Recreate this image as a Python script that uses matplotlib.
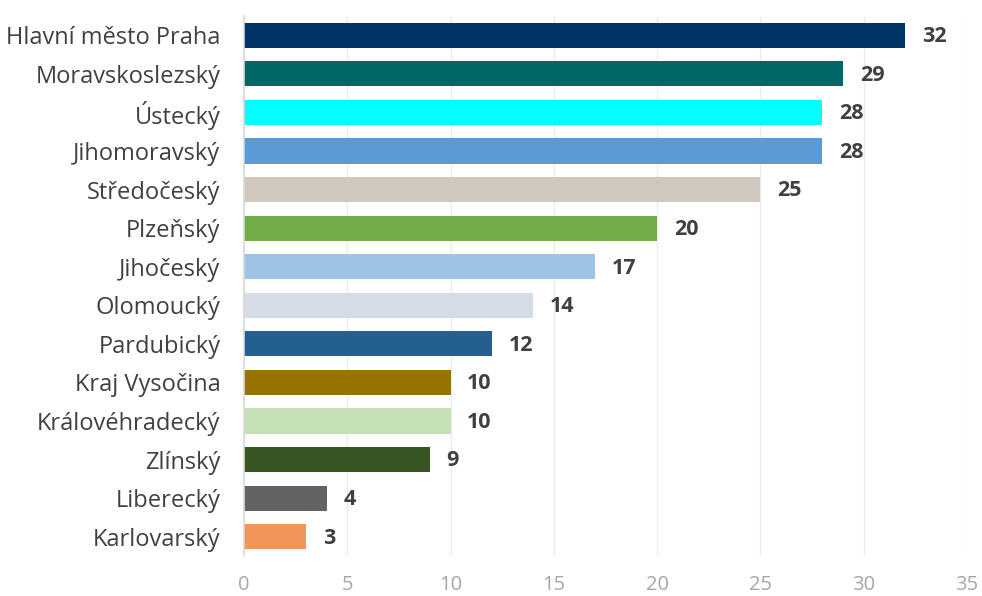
import matplotlib
matplotlib.use("Agg")
import matplotlib.pyplot as plt

regions = ["Hlavní město Praha", "Moravskoslezský", "Ústecký", "Jihomoravský",
           "Středočeský", "Plzeňský", "Jihočeský", "Olomoucký", "Pardubický",
           "Kraj Vysočina", "Královéhradecký", "Zlínský", "Liberecký", "Karlovarský"]
values = [32, 29, 28, 28, 25, 20, 17, 14, 12, 10, 10, 9, 4, 3]
colors = ["#003366", "#006666", "#00FFFF", "#5B9BD5", "#D0C8BC", "#70AD47",
          "#9DC3E6", "#D6DCE5", "#255E91", "#997300", "#C5E0B4", "#375623",
          "#636363", "#F0965A"]
x_ticks = [0, 5, 10, 15, 20, 25, 30, 35]

plt.rcParams["font.family"] = ["Open Sans", "DejaVu Sans"]

fig = plt.figure(figsize=(9.82, 5.96), dpi=100)
ax = fig.add_axes([0.2485, 0.0671, 0.7362, 0.9061])

pos = list(range(len(regions)))
ax.barh(pos, values, height=0.65, color=colors, zorder=3)
for p, v in zip(pos, values):
    ax.annotate(str(v), (v, p), xytext=(12, -1), textcoords="offset points",
                ha="left", va="center", fontsize=15.5, fontweight="bold",
                color="#404040", zorder=4)

ax.set_ylim(len(regions) - 0.5, -0.5)
ax.set_xlim(0, 35)
ax.set_xticks(x_ticks)
ax.set_yticks(pos)
ax.set_yticklabels(regions, fontsize=17, color="#404040")
ax.tick_params(axis="x", labelsize=14.5, labelcolor="#A6A6A6", length=0, pad=14)
ax.tick_params(axis="y", length=0, pad=17)
ax.grid(axis="x", color="#EBEBEB", linewidth=1, zorder=0)
for s in ["top", "right", "bottom"]:
    ax.spines[s].set_visible(False)
ax.spines["left"].set_color("#D9D9D9")
ax.spines["left"].set_linewidth(1.2)
ax.spines["left"].set_zorder(5)

fig.savefig("out.png", dpi=100)
